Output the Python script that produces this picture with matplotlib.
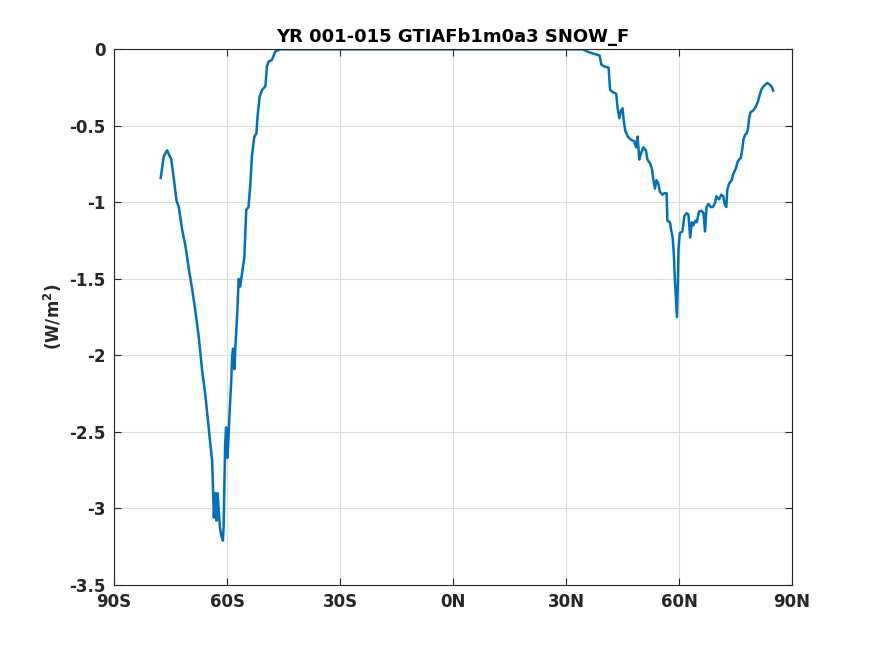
import matplotlib
matplotlib.use("Agg")
import matplotlib.pyplot as plt

# zonal mean SNOW_F (W/m^2), lat in degrees
lat = [-77.6, -76.8, -75.9, -74.8, -74.1, -73.4, -72.8, -71.9, -71.0, -70.1,
       -69.2, -68.4, -67.5, -66.6, -65.7, -64.8, -63.95, -63.7, -63.5, -63.1,
       -62.8, -62.5, -61.9, -61.6, -61.1, -60.9, -60.7, -60.5, -60.25, -59.9,
       -59.55, -59.3, -58.9, -58.65, -58.4, -58.0, -57.8, -57.3, -56.9, -56.5,
       -56.0, -55.4, -54.9, -54.3, -53.8, -53.4, -52.75, -52.2, -51.9, -51.35,
       -50.7, -49.8, -49.4, -48.95, -48.1, -47.2, -45.9,
       -30.0, 0.0, 30.0, 34.4, 36.2, 37.5, 38.9, 39.4, 40.0, 41.3, 41.7, 42.4,
       43.3, 43.7, 44.15, 44.6, 45.0, 45.3, 45.7, 46.4, 47.2, 48.1, 48.6,
       49.0, 49.45, 49.9, 50.5, 51.2, 51.6, 52.3, 52.8, 53.2, 53.6, 54.0,
       54.5, 54.9, 55.6, 56.1, 56.7, 56.9, 57.6, 57.9, 58.3, 58.6, 58.9,
       59.2, 59.45, 59.7, 59.85, 60.2, 60.9, 61.4, 62.0, 62.5, 62.95, 63.4,
       63.8, 64.3, 64.7, 65.3, 66.0, 66.5, 66.9, 67.3, 67.8, 68.4, 69.0,
       69.6, 69.9, 70.6, 71.2, 71.75, 72.1, 72.55, 72.8, 73.3, 74.0, 74.3,
       75.05, 75.5, 75.9, 76.4, 76.8, 77.1, 77.5, 77.9, 78.3, 78.6, 79.0,
       79.7, 80.35, 80.95, 81.4, 81.9, 82.5, 83.4, 84.05, 84.6, 85.0]
snow_f = [-0.84, -0.70, -0.66, -0.72, -0.85, -0.99, -1.03, -1.18, -1.29, -1.44,
          -1.575, -1.71, -1.88, -2.10, -2.27, -2.49, -2.69, -2.88, -3.06, -2.90,
          -3.08, -2.90, -3.12, -3.17, -3.21, -3.12, -2.84, -2.58, -2.47, -2.67,
          -2.51, -2.36, -2.18, -2.01, -1.955, -2.09, -1.95, -1.73, -1.50, -1.55,
          -1.46, -1.36, -1.05, -1.03, -0.88, -0.70, -0.57, -0.55, -0.44, -0.31,
          -0.265, -0.24, -0.11, -0.08, -0.07, -0.015, 0.0,
          0.0, 0.0, 0.0, 0.0, -0.02, -0.03, -0.04, -0.10, -0.11, -0.12, -0.265, -0.28,
          -0.29, -0.385, -0.45, -0.40, -0.385, -0.46, -0.53, -0.57, -0.59, -0.60, -0.64,
          -0.57, -0.72, -0.68, -0.64, -0.66, -0.72, -0.745, -0.78, -0.855, -0.91, -0.855,
          -0.876, -0.93, -0.95, -0.94, -0.94, -1.12, -1.13, -1.18, -1.23, -1.33, -1.51,
          -1.64, -1.75, -1.51, -1.31, -1.20, -1.19, -1.09, -1.07, -1.08, -1.23, -1.13,
          -1.15, -1.12, -1.13, -1.06, -1.055, -1.07, -1.19, -1.03, -1.01, -1.03, -1.03,
          -1.00, -0.96, -0.98, -0.95, -0.96, -1.01, -1.03, -0.92, -0.876, -0.855, -0.82,
          -0.78, -0.74, -0.72, -0.71, -0.65, -0.59, -0.56, -0.55, -0.52, -0.45, -0.41,
          -0.40, -0.375, -0.34, -0.30, -0.26, -0.24, -0.22, -0.23, -0.245, -0.27]

xticks = [-90, -60, -30, 0, 30, 60, 90]
xticklabels = ["90S", "60S", "30S", "0N", "30N", "60N", "90N"]
yticks = [-3.5, -3, -2.5, -2, -1.5, -1, -0.5, 0]
yticklabels = ["-3.5", "-3", "-2.5", "-2", "-1.5", "-1", "-0.5", "0"]

plt.rcParams["font.family"] = "DejaVu Sans"
plt.rcParams["font.weight"] = "bold"

fig = plt.figure(figsize=(8.75, 6.56), dpi=100)
ax = fig.add_axes([0.1303, 0.1082, 0.7749, 0.8166])
ax.plot(lat, snow_f, color="#0072BD", linewidth=1.8)

ax.set_xlim(-90, 90)
ax.set_ylim(-3.5, 0)
ax.set_xticks(xticks)
ax.set_xticklabels(xticklabels)
ax.set_yticks(yticks)
ax.set_yticklabels(yticklabels)
ax.tick_params(direction="in", top=True, right=True, length=5, width=0.8,
               labelsize=12, pad=6, color="#262626", labelcolor="#262626")
for lbl in ax.get_xticklabels() + ax.get_yticklabels():
    lbl.set_fontweight("bold")
ax.grid(True, color="#dcdcdc", linewidth=0.8)
ax.set_axisbelow(True)
for sp in ax.spines.values():
    sp.set_color("#262626")
    sp.set_linewidth(0.8)

ax.set_title("YR 001-015 GTIAFb1m0a3 SNOW_F", fontsize=13, fontweight="bold", pad=5)
ax.set_ylabel("(W/m$^\\mathbf{2}$)", fontsize=12, fontweight="bold", labelpad=4,
              color="#262626")

fig.savefig("out.png", dpi=100)
